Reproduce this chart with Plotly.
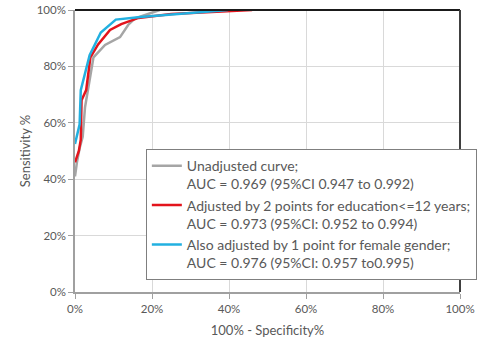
import plotly.graph_objects as go

# ROC curves: false positive rate (100% - specificity) vs sensitivity, in percent
unadj_fpr = [0, 0.5, 1.2, 2.0, 2.6, 4.8, 7.8, 11.7, 13.8, 15.6, 22.0]
unadj_sens = [41, 46, 51, 55, 65.5, 83.2, 87.6, 90.4, 94.7, 97.0, 100]

edu_fpr = [0, 1.0, 1.5, 1.7, 2.9, 4.0, 6.0, 9.1, 12.0, 16.5, 25.0, 40.0, 46.0]
edu_sens = [46, 50, 54, 68, 71.6, 83.2, 87.8, 92.9, 95.0, 97.2, 98.6, 99.6, 100]

gender_fpr = [0, 1.2, 1.5, 3.8, 6.7, 10.6, 17.0, 28.0, 39.8]
gender_sens = [52.5, 59.5, 71.6, 84.0, 92.0, 96.6, 97.5, 98.8, 100]

series_names = [
    "Unadjusted curve;<br>AUC = 0.969 (95%CI 0.947 to 0.992)",
    "Adjusted by 2 points for education<=12 years;<br>AUC = 0.973 (95%CI: 0.952 to 0.994)",
    "Also adjusted by 1 point for female gender;<br>AUC = 0.976 (95%CI: 0.957 to0.995)",
]
series_colors = ["#a5a5a5", "#e3141c", "#22b0e0"]

tick_vals = [0, 20, 40, 60, 80, 100]
tick_text = ["0%", "20%", "40%", "60%", "80%", "100%"]

FONT = "Lato"
TXT = "#595959"

fig = go.Figure()
for xs, ys, name, color in zip(
    [unadj_fpr, edu_fpr, gender_fpr],
    [unadj_sens, edu_sens, gender_sens],
    series_names,
    series_colors,
):
    fig.add_trace(go.Scatter(
        x=xs, y=ys, mode="lines", name=name,
        line=dict(color=color, width=2.5),
    ))

axis_common = dict(
    range=[0, 100],
    tickvals=tick_vals,
    ticktext=tick_text,
    showgrid=True,
    gridcolor="#d9d9d9",
    gridwidth=1,
    zeroline=False,
    showline=True,
    linecolor="#a0a0a0",
    linewidth=1.5,
    ticks="outside",
    ticklen=5,
    tickcolor="#a0a0a0",
    tickfont=dict(family=FONT, size=11.5, color=TXT),
)

fig.update_xaxes(
    **axis_common,
    automargin=False,
    title=dict(text="100% - Specificity%", font=dict(family=FONT, size=13, color=TXT)),
)
fig.update_yaxes(
    **axis_common,
    automargin="left",
    title=dict(text="Sensitivity %", font=dict(family=FONT, size=13, color=TXT), standoff=3),
)

# dark frame along the top and right edges of the plot area
fig.add_shape(type="line", xref="paper", yref="paper", x0=0, x1=1, y0=1, y1=1,
              line=dict(color="#1a1a1a", width=2))
fig.add_shape(type="line", xref="paper", yref="paper", x0=1, x1=1, y0=0, y1=1,
              line=dict(color="#404040", width=2))

fig.update_layout(
    width=498,
    height=338,
    margin=dict(l=75, r=38, t=10, b=46),
    paper_bgcolor="white",
    plot_bgcolor="white",
    font=dict(family=FONT, color=TXT),
    legend=dict(
        x=0.184, y=0.507, xanchor="left", yanchor="top",
        bgcolor="white", bordercolor="#7f7f7f", borderwidth=1,
        font=dict(family=FONT, size=14, color=TXT),
        valign="top",
        itemwidth=30,
        tracegroupgap=0,
    ),
    showlegend=True,
)

fig.write_html("out.html")
